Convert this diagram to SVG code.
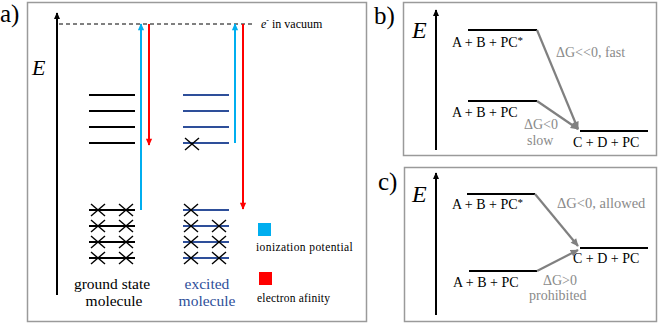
<svg xmlns="http://www.w3.org/2000/svg" width="660" height="325" viewBox="0 0 660 325" font-family="'Liberation Serif', serif">
<style>
text{font-family:'Liberation Serif','Times New Roman',serif;fill:#000}
.g{fill:#8a8a8a}
.b{fill:#2e4f9a}
.panel{fill:#fff;stroke:#9a9a9a;stroke-width:1.5}
.lv{stroke:#000;stroke-width:2}
.lvb{stroke:#2e4f9a;stroke-width:2}
.x{stroke:#000;stroke-width:1.4}
.ax{stroke:#000;stroke-width:2}
.ga{stroke:#808080;stroke-width:2.2}
</style>
<defs>
<marker id="mk" viewBox="0 0 10 10" refX="9" refY="5" markerWidth="7" markerHeight="8" markerUnits="userSpaceOnUse" orient="auto"><path d="M0,0.5 L10,5 L0,9.5 z" fill="#000"/></marker>
<marker id="mb" viewBox="0 0 10 10" refX="9" refY="5" markerWidth="8" markerHeight="7" markerUnits="userSpaceOnUse" orient="auto"><path d="M0,0.5 L10,5 L0,9.5 z" fill="#00aeef"/></marker>
<marker id="mr" viewBox="0 0 10 10" refX="9" refY="5" markerWidth="8" markerHeight="7" markerUnits="userSpaceOnUse" orient="auto"><path d="M0,0.5 L10,5 L0,9.5 z" fill="#ff0000"/></marker>
<marker id="mg" viewBox="0 0 10 10" refX="9" refY="5" markerWidth="9" markerHeight="8" markerUnits="userSpaceOnUse" orient="auto"><path d="M0,0.5 L10,5 L0,9.5 z" fill="#808080"/></marker>
<g id="xm"><line class="x" x1="-7" y1="-6" x2="7" y2="6"/><line class="x" x1="-7" y1="6" x2="7" y2="-6"/></g>
</defs>
<rect width="660" height="325" fill="#fff"/>

<!-- panel a -->
<g id="panel-a">
<rect class="panel" x="27.5" y="2.5" width="339" height="319"/>
<text x="0" y="22" font-size="25">a)</text>
<line class="ax" x1="57" y1="295" x2="57" y2="13" marker-end="url(#mk)"/>
<text x="32" y="75" font-size="22" font-style="italic">E</text>
<line x1="59" y1="24" x2="254" y2="24" stroke="#000" stroke-width="1" stroke-dasharray="4,3"/>
<text x="261" y="28" font-size="12"><tspan font-style="italic">e</tspan><tspan font-size="8" dy="-5">-</tspan><tspan dy="5"> in vacuum</tspan></text>
</g>

<g id="ground-state">
<line class="lv" x1="89" y1="95" x2="135" y2="95"/>
<line class="lv" x1="89" y1="111" x2="135" y2="111"/>
<line class="lv" x1="89" y1="127" x2="135" y2="127"/>
<line class="lv" x1="89" y1="143" x2="135" y2="143"/>
<line class="lv" x1="89" y1="210" x2="135" y2="210"/>
<line class="lv" x1="89" y1="226" x2="135" y2="226"/>
<line class="lv" x1="89" y1="242" x2="135" y2="242"/>
<line class="lv" x1="89" y1="258" x2="135" y2="258"/>
<use href="#xm" x="98" y="210"/><use href="#xm" x="126" y="210"/>
<use href="#xm" x="98" y="226"/><use href="#xm" x="126" y="226"/>
<use href="#xm" x="98" y="242"/><use href="#xm" x="126" y="242"/>
<use href="#xm" x="98" y="258"/><use href="#xm" x="126" y="258"/>
<text x="112" y="289" font-size="15.5" text-anchor="middle">ground state</text>
<text x="114" y="306" font-size="15.5" text-anchor="middle">molecule</text>
</g>

<g id="excited">
<line class="lvb" x1="183" y1="95" x2="229" y2="95"/>
<line class="lvb" x1="183" y1="111" x2="229" y2="111"/>
<line class="lvb" x1="183" y1="127" x2="229" y2="127"/>
<line class="lvb" x1="183" y1="143" x2="229" y2="143"/>
<line class="lvb" x1="183" y1="210" x2="229" y2="210"/>
<line class="lvb" x1="183" y1="226" x2="229" y2="226"/>
<line class="lvb" x1="183" y1="242" x2="229" y2="242"/>
<line class="lvb" x1="183" y1="258" x2="229" y2="258"/>
<use href="#xm" x="192" y="144"/>
<use href="#xm" x="191" y="210"/>
<use href="#xm" x="191" y="226"/><use href="#xm" x="219" y="226"/>
<use href="#xm" x="191" y="242"/><use href="#xm" x="219" y="242"/>
<use href="#xm" x="191" y="258"/><use href="#xm" x="219" y="258"/>
<text class="b" x="207" y="289" font-size="15.5" text-anchor="middle">excited</text>
<text class="b" x="207" y="306" font-size="15.5" text-anchor="middle">molecule</text>
</g>

<g id="legend">
<rect x="258" y="223" width="13" height="13" fill="#00aeef"/>
<text x="256" y="251" font-size="11.5" letter-spacing="0.4">ionization potential</text>
<rect x="259" y="272" width="13" height="13" fill="#ff0000"/>
<text x="257" y="302" font-size="11.5" letter-spacing="0.2">electron afinity</text>
</g>

<!-- panel b -->
<g id="panel-b">
<rect class="panel" x="403.5" y="2.5" width="253" height="153"/>
<text x="374" y="24" font-size="25">b)</text>
<line class="ax" x1="436" y1="150" x2="436" y2="10" marker-end="url(#mk)"/>
<text x="412" y="38" font-size="24" font-style="italic">E</text>
</g>
<g id="b-abpcstar">
<line class="lv" x1="468" y1="30" x2="537" y2="30"/>
<text x="452" y="47" font-size="14">A + B + PC<tspan font-size="11" dy="-3">*</tspan></text>
</g>
<g id="b-abpc">
<line class="lv" x1="468" y1="101" x2="537" y2="101"/>
<text x="452" y="117" font-size="14">A + B + PC</text>
</g>
<g id="b-cdpc">
<line class="lv" x1="580" y1="131" x2="648" y2="131"/>
<text x="573" y="147" font-size="14">C + D + PC</text>
</g>

<!-- panel c -->
<g id="panel-c">
<rect class="panel" x="404.5" y="167.5" width="252" height="154"/>
<text x="378" y="190" font-size="25">c)</text>
<line class="ax" x1="436" y1="315" x2="436" y2="173" marker-end="url(#mk)"/>
<text x="412" y="202" font-size="24" font-style="italic">E</text>
</g>
<g id="c-abpcstar">
<line class="lv" x1="467" y1="194" x2="535" y2="194"/>
<text x="452" y="209" font-size="14">A + B + PC<tspan font-size="11" dy="-3">*</tspan></text>
</g>
<g id="c-abpc">
<line class="lv" x1="469" y1="271" x2="537" y2="271"/>
<text x="453" y="287" font-size="14">A + B + PC</text>
</g>
<g id="c-cdpc">
<line class="lv" x1="580" y1="248" x2="648" y2="248"/>
<text x="573" y="263" font-size="14">C + D + PC</text>
</g>

<g id="connectors">
<line x1="141" y1="210" x2="141" y2="24" stroke="#00aeef" stroke-width="2" marker-end="url(#mb)"/>
<line x1="149" y1="24" x2="149" y2="145" stroke="#ff0000" stroke-width="2" marker-end="url(#mr)"/>
<line x1="235" y1="143" x2="235" y2="24" stroke="#00aeef" stroke-width="2" marker-end="url(#mb)"/>
<line x1="243" y1="24" x2="243" y2="209" stroke="#ff0000" stroke-width="2" marker-end="url(#mr)"/>
<line class="ga" x1="537" y1="30" x2="578" y2="129" marker-end="url(#mg)"/>
<line class="ga" x1="537" y1="101" x2="578" y2="129" marker-end="url(#mg)"/>
<line class="ga" x1="535" y1="194" x2="578" y2="246" marker-end="url(#mg)"/>
<line class="ga" x1="537" y1="271" x2="578" y2="250" marker-end="url(#mg)"/>
<text class="g" x="556" y="57" font-size="14">ΔG&lt;&lt;0, fast</text>
<text class="g" x="524" y="129" font-size="14">ΔG&lt;0</text>
<text class="g" x="527" y="145" font-size="14">slow</text>
<text class="g" x="557" y="208" font-size="14.5">ΔG&lt;0, allowed</text>
<text class="g" x="543" y="285" font-size="14">ΔG&gt;0</text>
<text class="g" x="529" y="300" font-size="14">prohibited</text>
</g>
</svg>
